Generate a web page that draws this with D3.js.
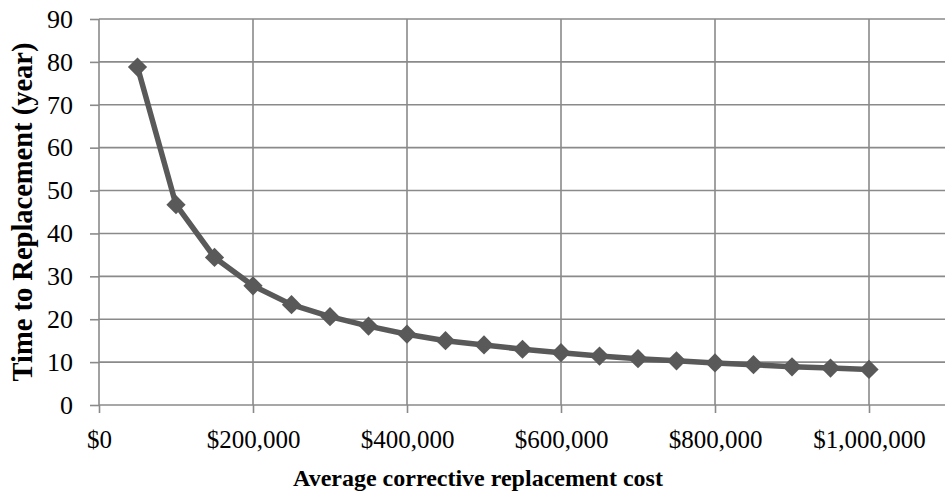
<!DOCTYPE html>
<html>
<head>
  <meta charset="utf-8">
  <script src="https://d3js.org/d3.v7.min.js"></script>
  <style>
    body { margin: 0; background: #fff; }
    svg { display: block; font-family: "Liberation Serif", serif; }
  </style>
</head>
<body>
  <svg></svg>
  <script>
    // Chart size and plot area (right side runs off the page like the source)
    const width = 945;
    const height = 498;
    const marginLeft = 99;
    const marginTop = 19;
    const plotBottom = 405;

    // Data
    const costs = [50000, 100000, 150000, 200000, 250000, 300000, 350000, 400000, 450000, 500000,
                   550000, 600000, 650000, 700000, 750000, 800000, 850000, 900000, 950000, 1000000];
    const years = [78.8, 46.7, 34.4, 27.8, 23.4, 20.6, 18.4, 16.5, 15.0, 14.0,
                   13.0, 12.2, 11.4, 10.8, 10.3, 9.8, 9.4, 8.9, 8.6, 8.3];
    const xTicks = [0, 200000, 400000, 600000, 800000, 1000000];
    const yTicks = [0, 10, 20, 30, 40, 50, 60, 70, 80, 90];

    const data = costs.map((c, i) => ({cost: c, years: years[i]}));

    const x = d3.scaleLinear().domain([0, 1200000]).range([marginLeft, 1023]);
    const y = d3.scaleLinear().domain([0, 90]).range([plotBottom, marginTop]);

    const svg = d3.select("svg")
      .attr("width", width)
      .attr("height", height)
      .attr("viewBox", [0, 0, width, height]);

    const gridColor = "#8a8a8a";

    // horizontal gridlines
    svg.append("g")
      .selectAll("line")
      .data(yTicks)
      .join("line")
        .attr("x1", marginLeft)
        .attr("x2", x(1200000))
        .attr("y1", d => y(d))
        .attr("y2", d => y(d))
        .attr("stroke", gridColor)
        .attr("stroke-width", 1.6);

    // vertical gridlines
    svg.append("g")
      .selectAll("line")
      .data(xTicks)
      .join("line")
        .attr("x1", d => x(d))
        .attr("x2", d => x(d))
        .attr("y1", y(90))
        .attr("y2", y(0))
        .attr("stroke", gridColor)
        .attr("stroke-width", 1.6);

    // x axis
    svg.append("g")
      .attr("transform", `translate(0,${plotBottom})`)
      .call(d3.axisBottom(x).tickValues(xTicks).tickFormat(d3.format("$,")).tickSize(8).tickPadding(17))
      .call(g => g.select(".domain").remove())
      .call(g => g.selectAll(".tick line").attr("stroke", gridColor).attr("stroke-width", 1.6))
      .call(g => g.selectAll(".tick text").attr("font-size", 25).attr("fill", "#000")
        .attr("font-family", "Liberation Serif"));

    // y axis
    svg.append("g")
      .attr("transform", `translate(${marginLeft},0)`)
      .call(d3.axisLeft(y).tickValues(yTicks).tickSize(9).tickPadding(17))
      .call(g => g.select(".domain").remove())
      .call(g => g.selectAll(".tick line").attr("stroke", gridColor).attr("stroke-width", 1.6))
      .call(g => g.selectAll(".tick text").attr("font-size", 26).attr("fill", "#000")
        .attr("font-family", "Liberation Serif"));

    // series line
    const line = d3.line()
      .x(d => x(d.cost))
      .y(d => y(d.years));

    svg.append("path")
      .datum(data)
      .attr("fill", "none")
      .attr("stroke", "#595959")
      .attr("stroke-width", 5.5)
      .attr("stroke-linejoin", "round")
      .attr("d", line);

    // diamond markers
    svg.append("g")
      .attr("fill", "#595959")
      .selectAll("path")
      .data(data)
      .join("path")
        .attr("d", d3.symbol(d3.symbolSquare, 185))
        .attr("transform", d => `translate(${x(d.cost)},${y(d.years)}) rotate(45)`);

    // axis titles
    svg.append("text")
      .attr("x", 478)
      .attr("y", 486)
      .attr("text-anchor", "middle")
      .attr("font-size", 24)
      .attr("font-weight", "bold")
      .text("Average corrective replacement cost");

    svg.append("text")
      .attr("transform", "translate(32,212) rotate(-90)")
      .attr("text-anchor", "middle")
      .attr("font-size", 28.5)
      .attr("font-weight", "bold")
      .text("Time to Replacement (year)");
  </script>
</body>
</html>
